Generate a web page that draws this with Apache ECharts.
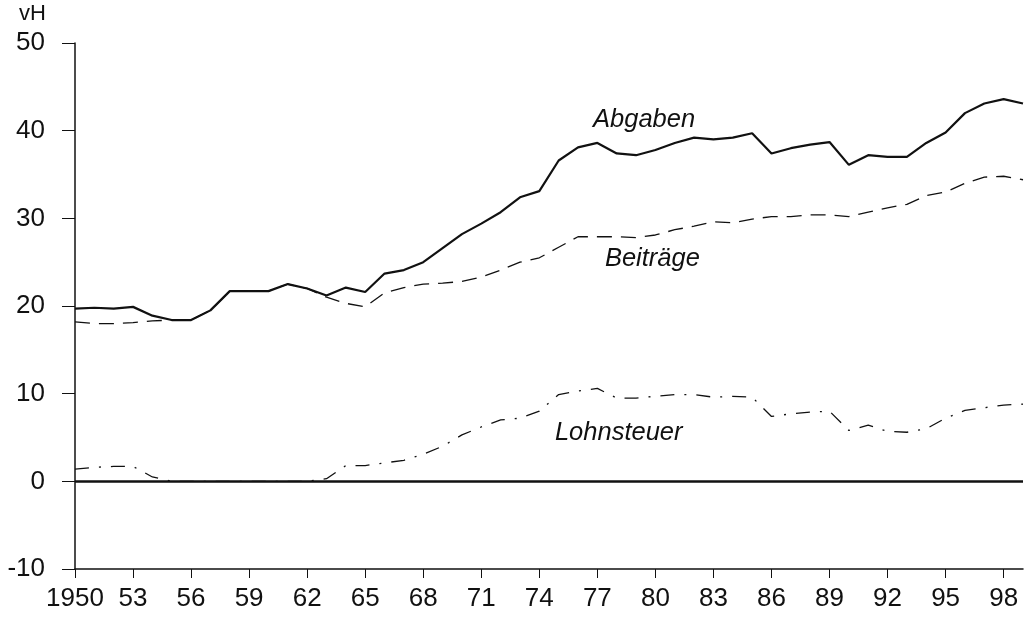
<!DOCTYPE html>
<html>
<head>
<meta charset="utf-8">
<script src="https://cdn.jsdelivr.net/npm/echarts@6/dist/echarts.min.js"></script>
<style>html,body{margin:0;padding:0;background:#fff}#c{width:1026px;height:622px}</style>
</head>
<body>
<div id="c"></div>
<script>
const years = [];
for (let y = 1950; y <= 1999; y++) years.push(String(y));

const abgaben = [19.7,19.8,19.7,19.9,18.9,18.4,18.4,19.5,21.7,21.7,
  21.7,22.5,22.0,21.2,22.1,21.6,23.7,24.1,25.0,26.6,
  28.2,29.4,30.7,32.4,33.1,36.6,38.1,38.6,37.4,37.2,
  37.8,38.6,39.2,39.0,39.2,39.7,37.4,38.0,38.4,38.7,
  36.1,37.2,37.0,37.0,38.6,39.8,42.0,43.1,43.6,43.1];

const beitraege = [18.2,18.0,18.0,18.1,18.3,18.4,18.4,19.5,21.7,21.7,
  21.7,22.5,22.0,21.0,20.3,19.9,21.5,22.1,22.5,22.6,
  22.8,23.3,24.1,25.0,25.5,26.7,27.9,27.9,27.9,27.8,
  28.1,28.7,29.1,29.6,29.5,29.9,30.2,30.2,30.4,30.4,
  30.2,30.7,31.2,31.6,32.6,33.0,34.0,34.7,34.8,34.4];

const lohnsteuer = [1.4,1.6,1.7,1.7,0.5,0,0,0,0,0,
  0,0,0,0.3,1.8,1.8,2.1,2.4,3.1,4.0,
  5.3,6.2,7.0,7.2,8.0,9.9,10.3,10.6,9.5,9.5,
  9.7,9.9,9.9,9.6,9.7,9.6,7.4,7.7,7.9,8.0,
  5.8,6.4,5.7,5.6,6.0,7.2,8.1,8.4,8.7,8.8];

const yTicks = { min: -10, max: 50, interval: 10 };
const seriesLabels = [
  { name: 'Abgaben', year: '1979', value: 41.2 },
  { name: 'Beiträge', year: '1980', value: 25.4 },
  { name: 'Lohnsteuer', year: '1978', value: 5.5 }
];

const FONT = 'Liberation Sans';
const chart = echarts.init(document.getElementById('c'), null, { renderer: 'canvas' });

function labelPoint(l, off) {
  return {
    symbol: 'circle', symbolSize: 1,
    itemStyle: { color: 'rgba(0,0,0,0)' },
    label: { show: true, formatter: l.name, position: 'inside', fontStyle: 'italic',
      fontFamily: FONT, fontSize: 25.5, color: '#111', offset: off },
    data: [{ coord: [l.year, l.value] }]
  };
}

chart.setOption({
  animation: false,
  backgroundColor: '#fff',
  grid: { left: 75, right: 3, top: 43, bottom: 53, containLabel: false },
  graphic: [{ type: 'text', left: 19, top: 3,
    style: { text: 'vH', fontFamily: FONT, fontSize: 22, fill: '#111' } }],
  xAxis: {
    type: 'category', data: years, boundaryGap: false,
    axisLine: { show: true, onZero: false, lineStyle: { color: '#111', width: 1.5 } },
    axisTick: { show: true, interval: 2, length: 9, lineStyle: { color: '#111', width: 1 } },
    axisLabel: { interval: 2, margin: 17, fontFamily: FONT, fontSize: 26, color: '#111',
      formatter: v => v === '1950' ? '1950' : v.slice(2) },
    splitLine: { show: false }
  },
  yAxis: {
    type: 'value', min: yTicks.min, max: yTicks.max, interval: yTicks.interval,
    axisLine: { show: true, lineStyle: { color: '#111', width: 1.5 } },
    axisTick: { show: true, length: 13, lineStyle: { color: '#111', width: 1 } },
    axisLabel: { margin: 30, fontFamily: FONT, fontSize: 26, color: '#111' },
    splitLine: { show: false }
  },
  series: [
    { name: 'Abgaben', type: 'line', data: abgaben, symbol: 'none',
      lineStyle: { color: '#111', width: 2.2, type: 'solid' },
      markPoint: labelPoint(seriesLabels[0], [8, 0]),
      markLine: { symbol: 'none', silent: true, label: { show: false },
        lineStyle: { color: '#111', width: 2.6, type: 'solid' },
        data: [{ yAxis: 0 }] } },
    { name: 'Beiträge', type: 'line', data: beitraege, symbol: 'none',
      lineStyle: { color: '#111', width: 1.3, type: [15, 9] },
      markPoint: labelPoint(seriesLabels[1], [-3, 0]) },
    { name: 'Lohnsteuer', type: 'line', data: lohnsteuer, symbol: 'none',
      lineStyle: { color: '#111', width: 1.3, type: [14, 10, 2, 10] },
      markPoint: labelPoint(seriesLabels[2], [2, 0]) }
  ]
});
</script>
</body>
</html>
